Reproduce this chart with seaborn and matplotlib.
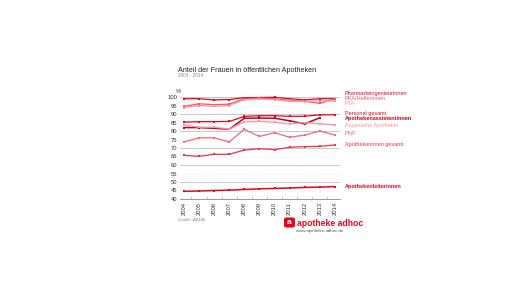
import pandas as pd
import numpy as np
import matplotlib
matplotlib.use("Agg")
import matplotlib.pyplot as plt
from matplotlib.patches import FancyBboxPatch
import seaborn as sns

# Data (share of women in %)
years = [2004, 2005, 2006, 2007, 2008, 2009, 2010, 2011, 2012, 2013, 2014]
pharmazieingenieurinnen = [99, 99, 98.3, 98.5, 99.6, 99.7, 99.8, 99, 98.3, 99, 99]
pka_helferinnen = [94.5, 96, 95.5, 95.8, 99, 99.3, 99, 98, 97.5, 96.2, 99]
pta = [93.8, 95, 94.5, 95, 98.5, 98.8, 98.5, 97.5, 97.3, 97.8, 97.6]
personal_gesamt = [85.2, 85.5, 85.5, 85.6, 88.6, 89, 89, 88.6, 88.7, 89.5, 89.6]
apothekenassistentinnen = [82, 82, 81.6, 81, 87.5, 87.6, 87.5, 86, 84.2, 87.8, np.nan]
angestellte_apotheker = [83.6, 82.2, 82.2, 81.2, 85.4, 85.6, 85.2, 84.2, 85, 84.2, 83.6]
phip = [73.6, 76, 76, 73.6, 81, 76.8, 79, 76.3, 77.6, 80, 77.6]
apothekerinnen_gesamt = [65.7, 65.1, 66.3, 66.3, 68.8, 69.6, 69, 70.4, 70.8, 71, 71.8]
apothekenleiterinnen = [44.5, 44.7, 45, 45.2, 45.6, 46, 46.2, 46.5, 46.8, 47, 47.3]

series = {
    "Pharmazieingenieurinnen": pharmazieingenieurinnen,
    "PKA/Helferinnen": pka_helferinnen,
    "PTA": pta,
    "Personal gesamt": personal_gesamt,
    "Apothekenassistentinnen": apothekenassistentinnen,
    "Angestellte Apotheker": angestellte_apotheker,
    "PhiP": phip,
    "Apothekerinnen gesamt": apothekerinnen_gesamt,
    "Apothekenleiterinnen": apothekenleiterinnen,
}

# colour, label y position, bold
styles = {
    "Pharmazieingenieurinnen": ("#e3061f", 102.2, False),
    "PKA/Helferinnen": ("#ee5a6e", 99.3, False),
    "PTA": ("#f596a3", 96.4, False),
    "Personal gesamt": ("#e3061f", 90.3, False),
    "Apothekenassistentinnen": ("#c8001a", 87.4, True),
    "Angestellte Apotheker": ("#f596a3", 83.4, False),
    "PhiP": ("#ef6a7d", 78.8, False),
    "Apothekerinnen gesamt": ("#e8334a", 71.8, False),
    "Apothekenleiterinnen": ("#e3061f", 47.6, True),
}

rows = []
for name, vals in series.items():
    for y, v in zip(years, vals):
        rows.append({"year": y, "value": v, "group": name})
df = pd.DataFrame(rows).dropna()

sns.set_theme(style="white")
plt.rcParams["font.family"] = ["Liberation Sans", "DejaVu Sans"]

fig = plt.figure(figsize=(5.16, 2.90), dpi=100)
ax = fig.add_axes([180 / 516, 1 - 199 / 290, 160 / 516, 102 / 290])

for name in series:
    color, _, bold = styles[name]
    sub = df[df["group"] == name]
    sns.lineplot(data=sub, x="year", y="value", ax=ax, color=color,
                 linewidth=1.1 if bold else 0.9, marker="s", markersize=1.8,
                 markeredgewidth=0, clip_on=False, legend=False)

ax.set_xlim(2003.74, 2014.33)
ax.set_ylim(40, 100)
ax.set_yticks(range(40, 101, 5))
ax.set_xticks(years)
ax.set_xticklabels([str(y) for y in years], rotation=90, fontsize=4.2, color="#333333")
ax.tick_params(axis="y", labelsize=4.2, colors="#333333", length=0, pad=2)
ax.tick_params(axis="x", length=0, pad=2)
ax.set_xlabel("")
ax.set_ylabel("")

for yv in range(50, 101, 10):
    ax.axhline(yv, color="#c8c8c8", linewidth=0.7, zorder=0)
for yv in range(45, 100, 10):
    ax.axhline(yv, color="#dddddd", linewidth=0.5, linestyle=(0, (1, 2)), zorder=0)
for xv in years[:-1]:
    ax.axvline(xv + 0.5, ymax=0.015, color="#999999", linewidth=0.5)

for s in ["top", "right", "left"]:
    ax.spines[s].set_visible(False)
ax.spines["bottom"].set_color("#888888")
ax.spines["bottom"].set_linewidth(0.6)

# right-side labels
for name in series:
    color, ly, bold = styles[name]
    ax.text(2014.65, ly, name, fontsize=4.0, color=color,
            fontweight="bold" if bold else "normal", va="center", ha="left",
            clip_on=False)

ax.text(2003.45, 101.8, "%", fontsize=4.3, color="#333333", ha="left", va="bottom")

fig.text(178 / 516, 1 - 70 / 290, "Anteil der Frauen in öffentlichen Apotheken",
         fontsize=5.2, color="#222222", va="center", ha="left")
fig.text(178 / 516, 1 - 75.5 / 290, "2004 - 2014", fontsize=3.4, color="#888888",
         va="center", ha="left")
fig.text(178 / 516, 1 - 220 / 290, "Quelle: ABDA", fontsize=3.2, color="#888888",
         va="center", ha="left")

# logo
logo = FancyBboxPatch((285 / 516, 1 - 227 / 290), 9 / 516, 9 / 290,
                      boxstyle="round,pad=0.002,rounding_size=0.006",
                      transform=fig.transFigure, facecolor="#e3061f",
                      edgecolor="none")
fig.patches.append(logo)
fig.text(289.5 / 516, 1 - 222.5 / 290, "a", fontsize=6, color="white",
         fontweight="bold", ha="center", va="center")
fig.text(297 / 516, 1 - 224 / 290, "apotheke adhoc", fontsize=6.2, color="#e3061f",
         fontweight="bold", ha="left", va="center")
fig.text(343 / 516, 1 - 231 / 290, "www.apotheke-adhoc.de", fontsize=3.2,
         color="#555555", ha="right", va="center")

plt.savefig("out.png", dpi=100)
